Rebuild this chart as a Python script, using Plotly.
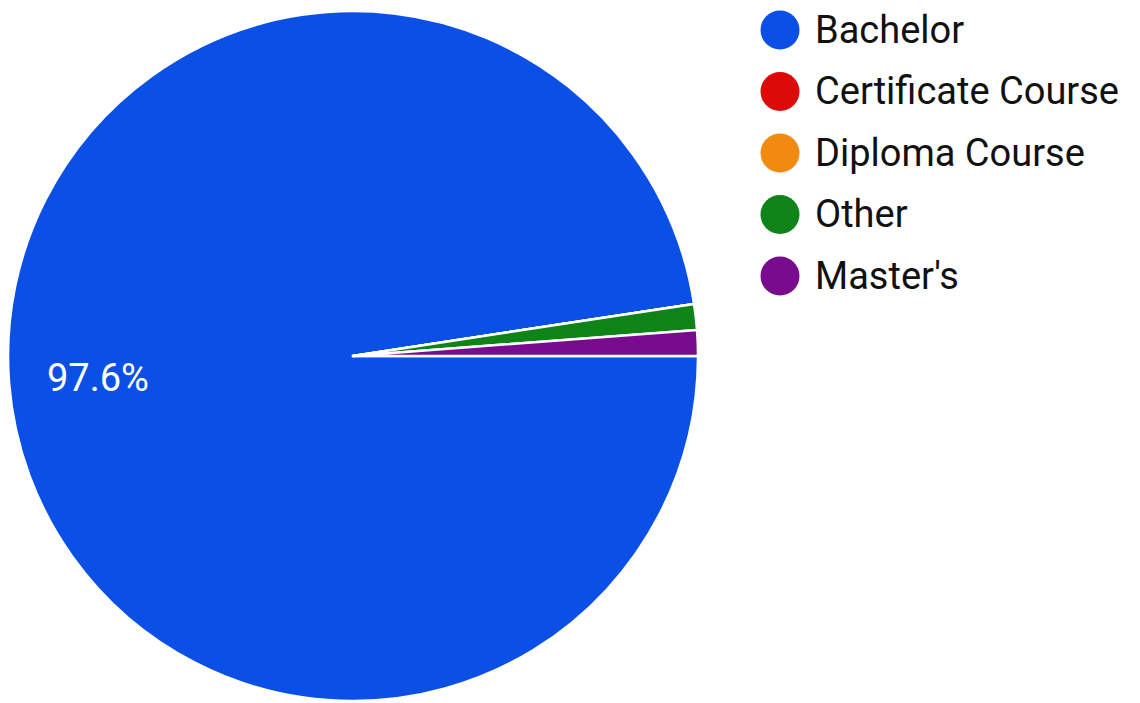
import math
import plotly.graph_objects as go

categories = ["Bachelor", "Certificate Course", "Diploma Course", "Other", "Master's"]
counts = [81, 0, 0, 1, 1]
colors = ["#0B50E6", "#DD0A0A", "#F08A10", "#0E8318", "#790C8E"]
legend_pos = [0, 1, 2, 3, 4]

W, H = 1140, 703
pie_x = [0.0, 0.6053]
pie_y = [0.01422, 0.99573]

fig = go.Figure()

fig.add_trace(go.Pie(
    labels=categories,
    values=counts,
    textinfo="none",
    marker=dict(colors=colors, line=dict(color="white", width=2.5)),
    sort=False,
    direction="clockwise",
    rotation=90,
    showlegend=False,
    domain=dict(x=pie_x, y=pie_y),
    hoverinfo="label+percent",
))

# percentage label of the largest slice, placed along its mid-angle
total = sum(counts)
share = counts[0] / total
mid = -2 * math.pi * share / 2  # clockwise from 3 o'clock
cx = (pie_x[0] + pie_x[1]) / 2
cy = (pie_y[0] + pie_y[1]) / 2
r_px = min((pie_x[1] - pie_x[0]) * W, (pie_y[1] - pie_y[0]) * H) / 2
frac = 0.74
fig.add_annotation(
    x=cx + frac * r_px * math.cos(mid) / W,
    y=cy + frac * r_px * math.sin(mid) / H - 3 / H,
    xref="paper", yref="paper",
    text=f"{share * 100:.1f}%",
    showarrow=False,
    font=dict(family="Roboto", size=38, color="white"),
    xanchor="center", yanchor="middle",
)

# custom legend with circular swatches
fig.add_trace(go.Scatter(
    x=[0] * len(categories),
    y=legend_pos,
    mode="markers",
    marker=dict(size=39, color=colors, symbol="circle"),
    showlegend=False,
    hoverinfo="skip",
    cliponaxis=False,
))
fig.add_trace(go.Scatter(
    x=[0.35] * len(categories),
    y=[p + 0.05 for p in legend_pos],
    mode="text",
    text=categories,
    textposition="middle right",
    textfont=dict(family="Roboto", size=38, color="#111111"),
    showlegend=False,
    hoverinfo="skip",
    cliponaxis=False,
))

fig.update_layout(
    width=W,
    height=H,
    margin=dict(l=0, r=0, t=0, b=0),
    paper_bgcolor="white",
    plot_bgcolor="white",
    xaxis=dict(range=[-7.72, 3.68], visible=False, fixedrange=True),
    yaxis=dict(range=[11.073, -0.358], visible=False, fixedrange=True),
    showlegend=False,
)

fig.write_html("out.html")
